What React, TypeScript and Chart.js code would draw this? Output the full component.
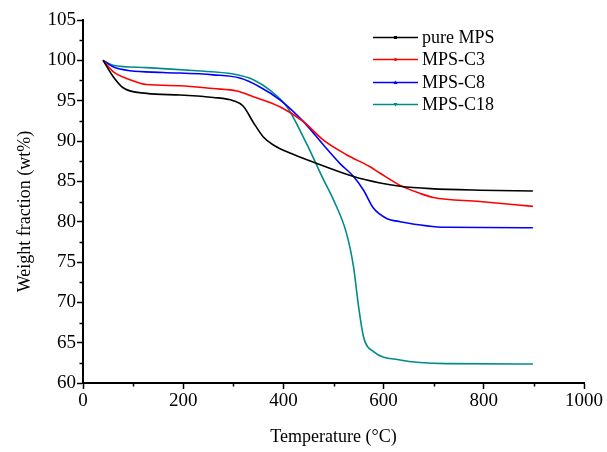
import React, { useEffect, useRef } from "react";
import { Chart, registerables } from "chart.js";

Chart.register(...registerables);

// ---- Data ----
const seriesLabels = ["pure MPS", "MPS-C3", "MPS-C8", "MPS-C18"];

const pureT = [40, 60, 80, 127, 194, 260, 300, 320, 340, 360, 380, 413, 463, 540, 593, 633, 693, 792, 898];
const pureW = [100, 98.0, 96.6, 95.9, 95.7, 95.4, 95.0, 94.3, 92.3, 90.5, 89.5, 88.5, 87.3, 85.6, 84.8, 84.4, 84.1, 83.9, 83.8];

const c3T = [40, 60, 94, 127, 194, 260, 307, 340, 393, 440, 480, 526, 573, 593, 633, 673, 699, 792, 898];
const c3W = [100, 98.6, 97.6, 97.0, 96.85, 96.5, 96.2, 95.5, 94.25, 92.4, 90.1, 88.3, 86.8, 86.0, 84.5, 83.5, 83.0, 82.5, 81.9];

const c8T = [40, 60, 94, 160, 260, 313, 353, 393, 440, 480, 513, 540, 560, 580, 606, 633, 726, 898];
const c8W = [100, 99.2, 98.7, 98.5, 98.2, 97.8, 96.7, 95.1, 92.4, 89.5, 87.2, 85.6, 83.9, 81.65, 80.4, 80.0, 79.3, 79.25];

const c18T = [40, 60, 127, 227, 300, 340, 373, 407, 446, 480, 500, 526, 540, 550, 560, 580, 633, 726, 898];
const c18W = [100, 99.4, 99.1, 98.7, 98.3, 97.6, 96.3, 94.25, 89.7, 85.2, 82.7, 78.55, 74.4, 69.5, 65.7, 63.9, 62.85, 62.4, 62.35];

const xTicksMajor = [0, 200, 400, 600, 800, 1000];
const yTicksMajor = [60, 65, 70, 75, 80, 85, 90, 95, 100, 105];

const xTitle = "Temperature (°C)";
const yTitle = "Weight fraction (wt%)";

const colors = ["#000000", "#ff0000", "#0000ff", "#008b8b"];
const markers = ["square", "circle", "triangle", "triangleDown"];

const FONT = "'Liberation Serif', 'Times New Roman', serif";

function toPoints(t: number[], w: number[]) {
  return t.map((x, i) => ({ x, y: w[i] }));
}

const minorTicksPlugin = {
  id: "minorTicks",
  afterDraw(chart: any) {
    const { ctx, scales } = chart;
    const xs = scales.x;
    const ys = scales.y;
    ctx.save();
    ctx.strokeStyle = "#000";
    ctx.lineWidth = 1.5;
    ctx.beginPath();
    for (let i = 0; i < xTicksMajor.length - 1; i++) {
      const v = (xTicksMajor[i] + xTicksMajor[i + 1]) / 2;
      const px = Math.round(xs.getPixelForValue(v)) + 0.5;
      ctx.moveTo(px, ys.bottom);
      ctx.lineTo(px, ys.bottom + 3.5);
    }
    for (let i = 0; i < yTicksMajor.length - 1; i++) {
      const v = (yTicksMajor[i] + yTicksMajor[i + 1]) / 2;
      const py = Math.round(ys.getPixelForValue(v)) + 0.5;
      ctx.moveTo(xs.left, py);
      ctx.lineTo(xs.left - 3.5, py);
    }
    ctx.stroke();

    // y-axis title (slightly below the axis centre, as in the reference)
    const cy = (ys.top + ys.bottom) / 2 + 10;
    ctx.translate(25, cy);
    ctx.rotate(-Math.PI / 2);
    ctx.fillStyle = "#000";
    ctx.font = `18px ${FONT}`;
    ctx.textAlign = "center";
    ctx.textBaseline = "middle";
    ctx.fillText(yTitle, 0, 0);
    ctx.restore();
  },
};

function drawMarker(ctx: CanvasRenderingContext2D, kind: string, x: number, y: number, color: string) {
  ctx.fillStyle = color;
  ctx.beginPath();
  if (kind === "square") {
    ctx.rect(x - 1.5, y - 1.5, 3, 3);
  } else if (kind === "circle") {
    ctx.arc(x, y, 1.6, 0, Math.PI * 2);
  } else if (kind === "triangle") {
    ctx.moveTo(x, y - 2);
    ctx.lineTo(x + 2, y + 1.5);
    ctx.lineTo(x - 2, y + 1.5);
    ctx.closePath();
  } else {
    ctx.moveTo(x, y + 2);
    ctx.lineTo(x + 2, y - 1.5);
    ctx.lineTo(x - 2, y - 1.5);
    ctx.closePath();
  }
  ctx.fill();
}

const legendPlugin = {
  id: "customLegend",
  afterDraw(chart: any) {
    const { ctx, chartArea } = chart;
    const x1 = chartArea.right - 211;
    const x2 = chartArea.right - 166;
    const tx = chartArea.right - 162;
    const y0 = chartArea.top + 17;
    const dy = 22.3;
    ctx.save();
    chart.data.datasets.forEach((ds: any, i: number) => {
      const y = Math.round(y0 + dy * i) + 0.5;
      ctx.strokeStyle = ds.borderColor;
      ctx.lineWidth = 1.5;
      ctx.beginPath();
      ctx.moveTo(x1, y);
      ctx.lineTo(x2, y);
      ctx.stroke();
      drawMarker(ctx, markers[i], (x1 + x2) / 2, y, ds.borderColor);
      ctx.fillStyle = "#000";
      ctx.font = `18px ${FONT}`;
      ctx.textAlign = "left";
      ctx.textBaseline = "middle";
      ctx.fillText(ds.label, tx, y + 1);
    });
    ctx.restore();
  },
};

export default function App() {
  const canvasRef = useRef<HTMLCanvasElement | null>(null);

  useEffect(() => {
    const canvas = canvasRef.current;
    if (!canvas) return;
    const seriesT = [pureT, c3T, c8T, c18T];
    const seriesW = [pureW, c3W, c8W, c18W];
    const chart = new Chart(canvas, {
      type: "line",
      data: {
        datasets: seriesLabels.map((label, i) => ({
          label,
          data: toPoints(seriesT[i], seriesW[i]),
          borderColor: colors[i],
          backgroundColor: colors[i],
          borderWidth: 1.6,
          pointRadius: 0,
          cubicInterpolationMode: "monotone" as const,
          fill: false,
        })),
      },
      options: {
        responsive: false,
        animation: false,
        layout: { padding: { top: 20, right: 23, left: 0, bottom: 0 } },
        plugins: {
          legend: { display: false },
          tooltip: { enabled: false },
        },
        scales: {
          x: {
            type: "linear",
            min: 0,
            max: 1000,
            ticks: {
              stepSize: 200,
              color: "#000",
              font: { family: FONT, size: 19 },
              padding: 1,
              maxRotation: 0,
              callback: (v: any) => String(v),
            },
            grid: {
              display: true,
              drawOnChartArea: false,
              drawTicks: true,
              tickLength: 6,
              color: "#000",
              tickWidth: 1.5,
            },
            border: { display: true, color: "#000", width: 2 },
            title: {
              display: true,
              text: xTitle,
              color: "#000",
              font: { family: FONT, size: 18 },
              padding: { top: 0, bottom: 4 },
            },
            afterFit: (s: any) => {
              s.height = 69;
            },
          },
          y: {
            type: "linear",
            min: 60,
            max: 105,
            ticks: {
              stepSize: 5,
              color: "#000",
              font: { family: FONT, size: 19 },
              padding: 1,
              callback: (v: any) => String(v),
            },
            grid: {
              display: true,
              drawOnChartArea: false,
              drawTicks: true,
              tickLength: 6,
              color: "#000",
              tickWidth: 1.5,
            },
            border: { display: true, color: "#000", width: 2 },
            title: { display: false },
            afterFit: (s: any) => {
              s.width = 83;
            },
          },
        },
      },
      plugins: [minorTicksPlugin, legendPlugin],
    });
    return () => chart.destroy();
  }, []);

  return (
    <div style={{ position: "absolute", left: 0, top: 0, width: 607, height: 452, background: "#fff" }}>
      <canvas ref={canvasRef} width={607} height={452} style={{ display: "block", width: 607, height: 452 }} />
    </div>
  );
}
